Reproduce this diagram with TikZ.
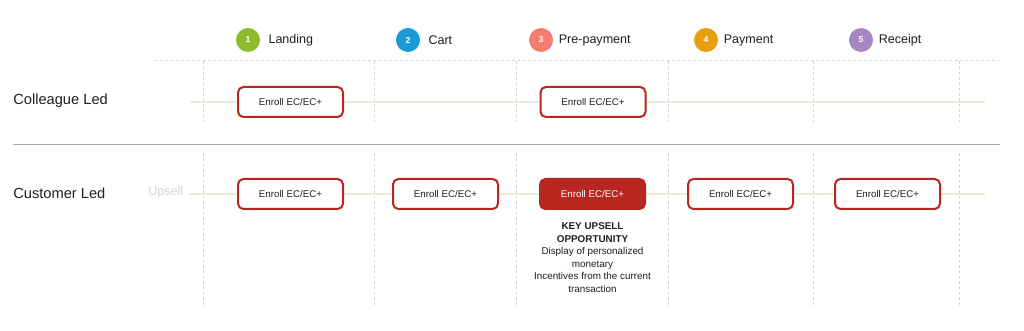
\documentclass[tikz,border=0pt]{standalone}
\usepackage{fontspec}
\setmainfont{Liberation Sans}
\usetikzlibrary{positioning,backgrounds}
\definecolor{boxC}{HTML}{B8271F}
\definecolor{s1C}{HTML}{8DBB2E}
\definecolor{s2C}{HTML}{1A9AD6}
\definecolor{s3C}{HTML}{F47C70}
\definecolor{s4C}{HTML}{E9A010}
\definecolor{s5C}{HTML}{A687C1}
\definecolor{darkC}{HTML}{1E1E1E}
\definecolor{gridC}{HTML}{D4D4D4}
\definecolor{laneC}{HTML}{E8F1D8}
\definecolor{sepC}{HTML}{A8A8A8}
\definecolor{faintC}{HTML}{D6D6D6}

\begin{document}
\begin{tikzpicture}[
  x=0.75pt, y=-0.75pt,
  every node/.style={font=\rmfamily, text=darkC},
  stepdot/.style={
    circle, fill=#1, minimum size=18pt, inner sep=0pt,
    font=\rmfamily\fontsize{6.5}{7}\selectfont\bfseries, text=white,
  },
  steplabel/.style={font=\rmfamily\fontsize{9.4}{11}\selectfont, anchor=west, inner sep=0pt},
  rowlabel/.style={font=\rmfamily\fontsize{11}{13}\selectfont, anchor=west, inner sep=0pt},
  enrollbox/.style={
    draw=boxC, fill=white, line width=1.5pt, rounded corners=4pt,
    minimum width=78.75pt, minimum height=22.5pt,
    inner sep=0pt, outer sep=0pt,
    font=\rmfamily\fontsize{7.3}{9}\selectfont,
  },
  keybox/.style={enrollbox, fill=boxC, text=white},
  gridline/.style={gridC, line width=0.75pt, dash pattern=on 2pt off 2pt},
  laneflow/.style={laneC, line width=1.2pt},
]
\useasboundingbox (0,0) rectangle (1024,331);

% ── Step headers ──
\node[stepdot=s1C] (d1) at (248,40) {1};
\node[steplabel, right=6pt of d1] (l1) {Landing};
\node[stepdot=s2C] (d2) at (408,40) {2};
\node[steplabel, right=6pt of d2] (l2) {Cart};
\node[stepdot=s3C] (d3) at (541,40) {3};
\node[steplabel, right=4pt of d3] (l3) {Pre-payment};
\node[stepdot=s4C] (d4) at (706,40) {4};
\node[steplabel, right=4pt of d4] (l4) {Payment};
\node[stepdot=s5C] (d5) at (861,40) {5};
\node[steplabel, right=4pt of d5] (l5) {Receipt};

% ── Grid ──
\draw[gridline] (155,61) -- (998,61);
\foreach \gx in {203,374,516,668,813,959} {
  \draw[gridline] (\gx,61) -- (\gx,125);
  \draw[gridline] (\gx,153) -- (\gx,305);
}
\draw[sepC, line width=0.75pt] (13,145) -- (1000,145);

% ── Colleague Led ──
\node[rowlabel] (colleague) at (13,101) {Colleague Led};
\coordinate (colStart) at (190,102);
\coordinate (colEnd) at (985,102);
\node[enrollbox] (col1) at (290.5,102) {Enroll EC/EC+};
\node[enrollbox] (col3) at (593,102) {Enroll EC/EC+};

% ── Customer Led ──
\node[rowlabel] (customer) at (13,193) {Customer Led};
\node[font=\rmfamily\fontsize{9.4}{11}\selectfont, text=faintC,
      anchor=west, inner sep=0pt] (upsell) at (148,192) {Upsell};
\coordinate (custEnd) at (985,194);
\node[enrollbox] (cust1) at (290.5,194) {Enroll EC/EC+};
\node[enrollbox] (cust2) at (445.5,194) {Enroll EC/EC+};
\node[keybox]    (cust3) at (592.5,194) {Enroll EC/EC+};
\node[enrollbox] (cust4) at (740.5,194) {Enroll EC/EC+};
\node[enrollbox] (cust5) at (887.5,194) {Enroll EC/EC+};
\node[font=\rmfamily\fontsize{7.4}{9.4}\selectfont, align=center,
      inner sep=0pt, below=10pt of cust3] (keynote)
      {\textbf{KEY UPSELL}\\\textbf{OPPORTUNITY}\\Display of personalized\\monetary\\Incentives from the current\\transaction};

% ── Lanes ──
\begin{scope}[on background layer]
\draw[laneflow] (colStart) -- (col1.west);
\draw[laneflow] (col1.east) -- (col3.west);
\draw[laneflow] (col3.east) -- (colEnd);
\draw[laneflow] ([xshift=4pt]upsell.east |- cust1.west) -- (cust1.west);
\draw[laneflow] (cust1.east) -- (cust2.west);
\draw[laneflow] (cust2.east) -- (cust3.west);
\draw[laneflow] (cust3.east) -- (cust4.west);
\draw[laneflow] (cust4.east) -- (cust5.west);
\draw[laneflow] (cust5.east) -- (custEnd);
\end{scope}

\end{tikzpicture}
\end{document}
